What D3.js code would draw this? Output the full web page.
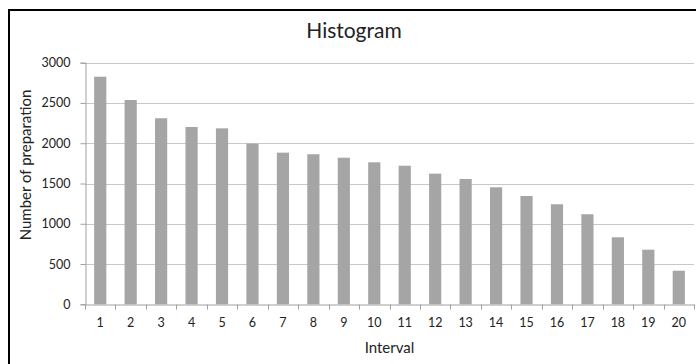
<!DOCTYPE html>
<html><head><meta charset="utf-8">
<script src="https://cdn.jsdelivr.net/npm/d3@7"></script>
<style>
html,body{margin:0;padding:0;background:#fff;}
svg{display:block;}
text{font-family:Lato,"Open Sans",sans-serif;fill:#222;}
</style></head>
<body>
<svg id="c" width="696" height="364"></svg>
<script>
const categories = ["1","2","3","4","5","6","7","8","9","10","11","12","13","14","15","16","17","18","19","20"];
const values = [2826,2537,2310,2202,2185,1995,1883,1863,1820,1763,1721,1622,1556,1453,1345,1242,1118,832,678,417];
const yTicks = [0,500,1000,1500,2000,2500,3000];
const title = "Histogram";
const xTitle = "Interval";
const yTitle = "Number of preparation";

const svg = d3.select("#c");
const W = 696, H = 364;
const m = {left:85, right:2, top:62.7, bottom:59.7};
const x = d3.scaleBand().domain(categories).range([m.left, W - m.right]).paddingInner(0.6).paddingOuter(0.3);
const y = d3.scaleLinear().domain([0,3000]).range([H - m.bottom, m.top]);

// border
svg.append("rect").attr("x",9).attr("y",10).attr("width",W+10).attr("height",H+10)
  .attr("fill","none").attr("stroke","#000").attr("stroke-width",2);

// gridlines
svg.append("g").selectAll("line").data(yTicks.filter(d=>d>0)).join("line")
  .attr("x1",m.left).attr("x2",W-m.right)
  .attr("y1",d=>Math.round(y(d))+0.5).attr("y2",d=>Math.round(y(d))+0.5)
  .attr("stroke","#c8c8c8").attr("stroke-width",1);

// bars
svg.append("g").selectAll("rect").data(values).join("rect")
  .attr("x",(d,i)=>x(categories[i])).attr("width",x.bandwidth())
  .attr("y",d=>y(d)).attr("height",d=>y(0)-y(d))
  .attr("fill","#a5a5a5");

// y axis
const ya = svg.append("g").attr("transform",`translate(${m.left+0.5},0)`)
  .call(d3.axisLeft(y).tickValues(yTicks).tickSize(5).tickPadding(10).tickFormat(d3.format("d")));
ya.select(".domain").attr("stroke","#a0a0a0");
ya.selectAll(".tick line").attr("stroke","#a0a0a0");
ya.selectAll("text").attr("font-size","12.5px").attr("fill","#222");

// x axis
const xa = svg.append("g").attr("transform",`translate(0,${Math.round(y(0))+0.5})`)
  .call(d3.axisBottom(x).tickSize(0).tickPadding(14));
xa.select(".domain").attr("stroke","#a0a0a0");
xa.selectAll("text").attr("font-size","12.5px").attr("fill","#222");
// boundary ticks between categories
const bounds = d3.range(categories.length+1).map(i => m.left + i*(W - m.right - m.left)/categories.length);
xa.selectAll(".bt").data(bounds).join("line").attr("class","bt")
  .attr("x1",d=>Math.round(d)+0.5).attr("x2",d=>Math.round(d)+0.5).attr("y1",0).attr("y2",5)
  .attr("stroke","#a0a0a0");

// titles
svg.append("text").attr("x",354).attr("y",38).attr("text-anchor","middle")
  .attr("font-size","21px").text(title);
svg.append("text").attr("x",(m.left+W-m.right)/2).attr("y",353).attr("text-anchor","middle")
  .attr("font-size","15px").text(xTitle);
svg.append("text").attr("transform",`translate(31,165) rotate(-90)`)
  .attr("text-anchor","middle").attr("font-size","15px").text(yTitle);
</script>
</body></html>
